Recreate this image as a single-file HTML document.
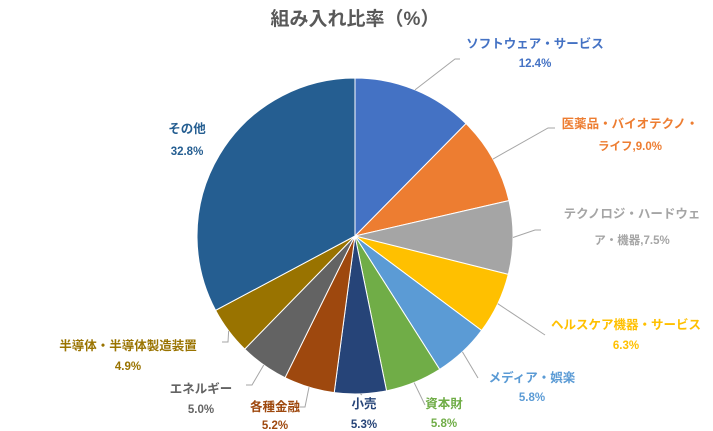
<!DOCTYPE html>
<html><head><meta charset="utf-8">
<style>
body{margin:0;background:#fff;}
svg{display:block;font-family:"Liberation Sans","Noto Sans CJK JP",sans-serif;}
</style></head>
<body>
<svg id="chart" width="713" height="431" viewBox="0 0 713 431">
<text x="355" y="25" text-anchor="middle" font-size="19" font-weight="bold" fill="#595959">組み入れ比率（%）</text>
<g id="slices"></g>
<g id="leaders"></g>
<g id="labels"></g>
</svg>
<script>
const categories=["ソフトウェア・サービス","医薬品・バイオテクノ・ライフ","テクノロジ・ハードウェア・機器","ヘルスケア機器・サービス","メディア・娯楽","資本財","小売","各種金融","エネルギー","半導体・半導体製造装置","その他"];
const values=[12.4,9.0,7.5,6.3,5.8,5.8,5.3,5.2,5.0,4.9,32.8];
const valueLabels=["12.4%","9.0%","7.5%","6.3%","5.8%","5.8%","5.3%","5.2%","5.0%","4.9%","32.8%"];
const colors=["#4472C4","#ED7D31","#A5A5A5","#FFC000","#5B9BD5","#70AD47","#264478","#9E480E","#636363","#997300","#255E91"];
// label layout: [line1, line2, x, y1, y2, elbowX, elbowY, endX]
const layout=[
 ["ソフトウェア・サービス","12.4%",535,48,67,455,59,460],
 ["医薬品・バイオテクノ・","ライフ,9.0%",630,128,150,548,128,555],
 ["テクノロジ・ハードウェ","ア・機器,7.5%",632,218,244,535,230,541],
 ["ヘルスケア機器・サービス","6.3%",626,329,349,545,335,545],
 ["メディア・娯楽","5.8%",532,382,401,478,378,478],
 ["資本財","5.8%",444,408,427,425,405,425],
 ["小売","5.3%",364,408,428,362,395,362],
 ["各種金融","5.2%",275,411,429,305,407,300],
 ["エネルギー","5.0%",201,393,413,252,385,246],
 ["半導体・半導体製造装置","4.9%",128,350,370,228,342,222],
 ["その他","32.8%",187,133,155,187,133,187]
];
const cx=355,cy=236,r=158;
const NS="http://www.w3.org/2000/svg";
const total=values.reduce((a,b)=>a+b,0);
function pt(frac,rad){const a=frac*2*Math.PI-Math.PI/2;return [cx+rad*Math.cos(a),cy+rad*Math.sin(a)];}
let acc=0;
const gS=document.getElementById('slices'),gL=document.getElementById('leaders'),gT=document.getElementById('labels');
values.forEach((v,i)=>{
 const f0=acc/total,f1=(acc+v)/total;acc+=v;
 const p0=pt(f0,r),p1=pt(f1,r);const large=(f1-f0)>0.5?1:0;
 const p=document.createElementNS(NS,'path');
 p.setAttribute('d',`M${cx},${cy}L${p0[0]},${p0[1]}A${r},${r} 0 ${large} 1 ${p1[0]},${p1[1]}Z`);
 p.setAttribute('fill',colors[i]);p.setAttribute('stroke','#fff');p.setAttribute('stroke-width','1');
 
 
 gS.appendChild(p);
 const L=layout[i];
 if(i!==10){
  const m=pt((f0+f1)/2,r);
  const ln=document.createElementNS(NS,'polyline');
  ln.setAttribute('points',`${m[0]},${m[1]} ${L[5]},${L[6]} ${L[7]},${L[6]}`);
  ln.setAttribute('fill','none');ln.setAttribute('stroke','#A6A6A6');ln.setAttribute('stroke-width','1');
  
  
  gL.appendChild(ln);
 }
 [[L[0],L[3]],[L[1],L[4]]].forEach((t,k)=>{
  const tx=document.createElementNS(NS,'text');
  tx.setAttribute('x',L[2]);tx.setAttribute('y',t[1]);tx.setAttribute('text-anchor','middle');
  tx.setAttribute('font-size',k===0?'12.5':'11.5');tx.setAttribute('font-weight','bold');tx.setAttribute('fill',colors[i]);
  tx.textContent=t[0];
  
  
  gT.appendChild(tx);
 });
});
</script>
</body></html>
